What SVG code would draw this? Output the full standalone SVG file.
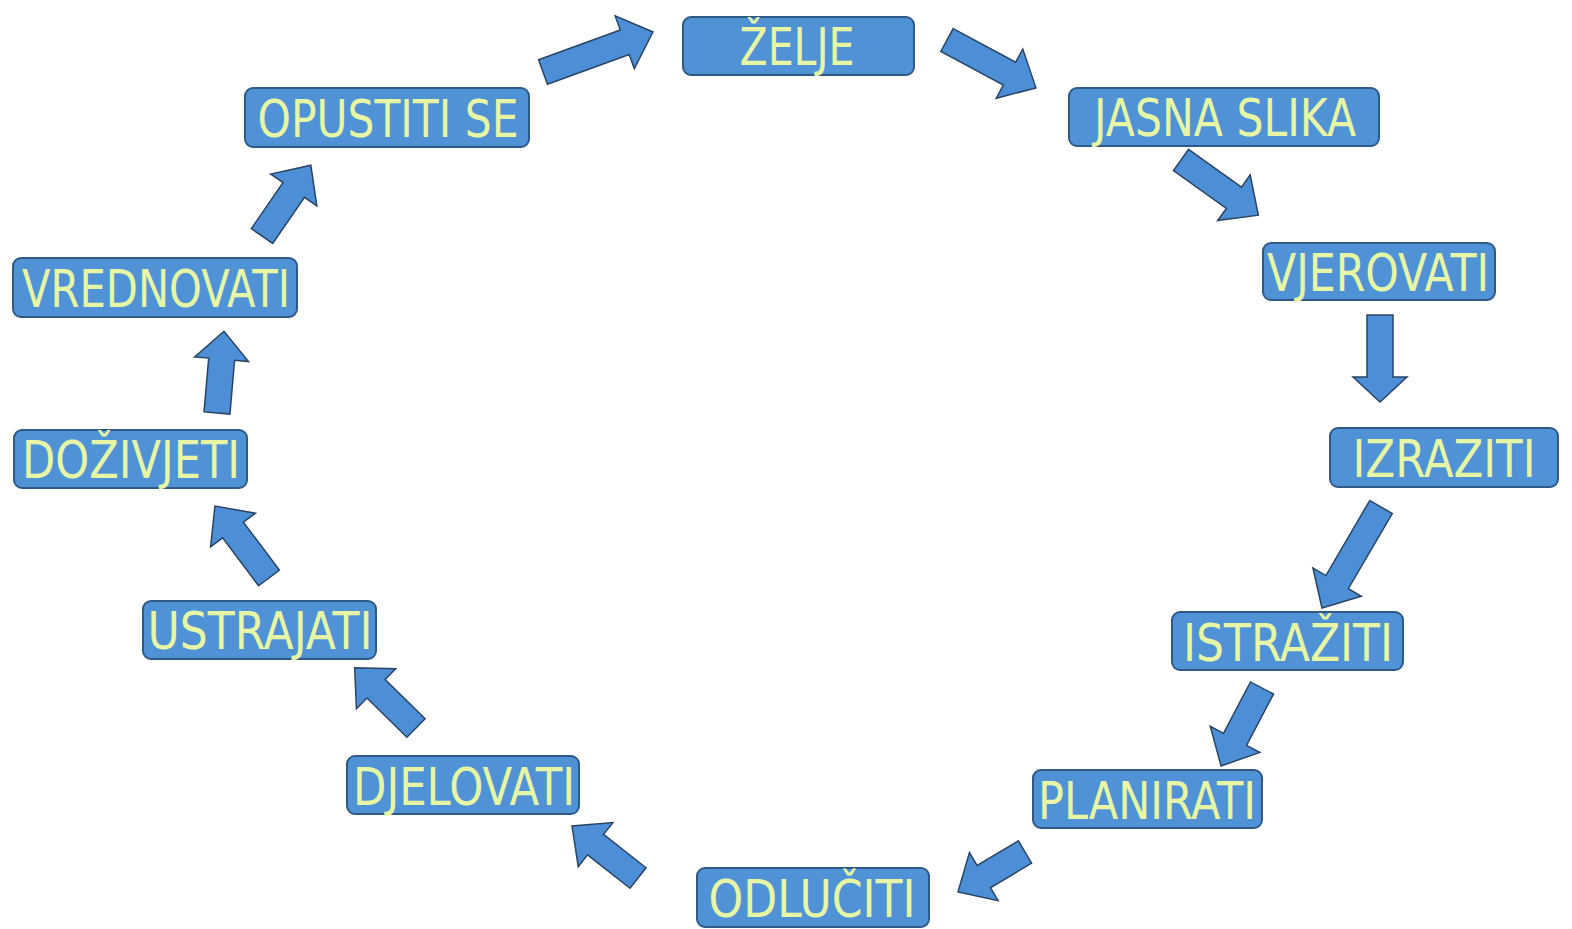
<svg xmlns="http://www.w3.org/2000/svg" width="1572" height="929" viewBox="0 0 1572 929">
<style>
.box{fill:#4f93d6;stroke:#2f5a86;stroke-width:2}
.lbl{font-family:"DejaVu Sans","Liberation Sans",sans-serif;font-size:52px;fill:#e6f6a4;text-anchor:middle}
.arr{fill:#4c8fd6;stroke:#2a4563;stroke-width:1.5;stroke-linejoin:miter}
</style>
<rect width="1572" height="929" fill="#ffffff"/>
<g id="connectors">
<path class="arr" transform="translate(543,72) rotate(-20)" d="M0,-13 L87,-13 L87,-28 L117,0 L87,28 L87,13 L0,13 Z"/>
<path class="arr" transform="translate(947,40) rotate(28.3)" d="M0,-13 L71,-13 L71,-28 L101,0 L71,28 L71,13 L0,13 Z"/>
<path class="arr" transform="translate(1181,160) rotate(35.5)" d="M0,-13 L65,-13 L65,-28 L95,0 L65,28 L65,13 L0,13 Z"/>
<path class="arr" transform="translate(1380,315) rotate(90)" d="M0,-13 L62,-13 L62,-27 L87,0 L62,27 L62,13 L0,13 Z"/>
<path class="arr" transform="translate(1381,507) rotate(120.3)" d="M0,-13 L87,-13 L87,-28 L117,0 L87,28 L87,13 L0,13 Z"/>
<path class="arr" transform="translate(1262,688) rotate(117.7)" d="M0,-13 L58,-13 L58,-28 L88,0 L58,28 L58,13 L0,13 Z"/>
<path class="arr" transform="translate(1025,852) rotate(149.2)" d="M0,-13 L48,-13 L48,-28 L78,0 L48,28 L48,13 L0,13 Z"/>
<path class="arr" transform="translate(638,878) rotate(-141.8)" d="M0,-13 L54,-13 L54,-28 L84,0 L54,28 L54,13 L0,13 Z"/>
<path class="arr" transform="translate(416,728) rotate(-135.5)" d="M0,-13 L56,-13 L56,-28 L86,0 L56,28 L56,13 L0,13 Z"/>
<path class="arr" transform="translate(269,578) rotate(-126.9)" d="M0,-13 L60,-13 L60,-28 L90,0 L60,28 L60,13 L0,13 Z"/>
<path class="arr" transform="translate(217,413) rotate(-85.1)" d="M0,-13 L54,-13 L54,-27 L82,0 L54,27 L54,13 L0,13 Z"/>
<path class="arr" transform="translate(262,236) rotate(-55.4)" d="M0,-13 L56,-13 L56,-28 L86,0 L56,28 L56,13 L0,13 Z"/>
</g>
<g id="n-zelje"><rect class="box" x="683" y="17" width="231" height="58" rx="8"/><text class="lbl" x="797" y="65" textLength="115" lengthAdjust="spacingAndGlyphs">ŽELJE</text></g>
<g id="n-jasna"><rect class="box" x="1069" y="88" width="310" height="58" rx="8"/><text class="lbl" x="1225" y="136" textLength="262" lengthAdjust="spacingAndGlyphs">JASNA SLIKA</text></g>
<g id="n-vjerovati"><rect class="box" x="1263" y="243" width="232" height="57" rx="8"/><text class="lbl" x="1378" y="291" textLength="222" lengthAdjust="spacingAndGlyphs">VJEROVATI</text></g>
<g id="n-izraziti"><rect class="box" x="1330" y="428" width="228" height="59" rx="8"/><text class="lbl" x="1444" y="477" textLength="183" lengthAdjust="spacingAndGlyphs">IZRAZITI</text></g>
<g id="n-istraziti"><rect class="box" x="1172" y="612" width="231" height="58" rx="8"/><text class="lbl" x="1288" y="661" textLength="210" lengthAdjust="spacingAndGlyphs">ISTRAŽITI</text></g>
<g id="n-planirati"><rect class="box" x="1033" y="770" width="229" height="58" rx="8"/><text class="lbl" x="1147" y="819" textLength="218" lengthAdjust="spacingAndGlyphs">PLANIRATI</text></g>
<g id="n-odluciti"><rect class="box" x="697" y="868" width="232" height="59" rx="8"/><text class="lbl" x="812" y="917" textLength="207" lengthAdjust="spacingAndGlyphs">ODLUČITI</text></g>
<g id="n-djelovati"><rect class="box" x="347" y="756" width="232" height="58" rx="8"/><text class="lbl" x="464" y="805" textLength="222" lengthAdjust="spacingAndGlyphs">DJELOVATI</text></g>
<g id="n-ustrajati"><rect class="box" x="143" y="601" width="233" height="58" rx="8"/><text class="lbl" x="260" y="649" textLength="225" lengthAdjust="spacingAndGlyphs">USTRAJATI</text></g>
<g id="n-dozivjeti"><rect class="box" x="14" y="430" width="233" height="58" rx="8"/><text class="lbl" x="131" y="478" textLength="218" lengthAdjust="spacingAndGlyphs">DOŽIVJETI</text></g>
<g id="n-vrednovati"><rect class="box" x="13" y="258" width="284" height="59" rx="8"/><text class="lbl" x="156" y="307" textLength="268" lengthAdjust="spacingAndGlyphs">VREDNOVATI</text></g>
<g id="n-opustiti"><rect class="box" x="245" y="88" width="284" height="59" rx="8"/><text class="lbl" x="388" y="137" textLength="261" lengthAdjust="spacingAndGlyphs">OPUSTITI SE</text></g>
</svg>
